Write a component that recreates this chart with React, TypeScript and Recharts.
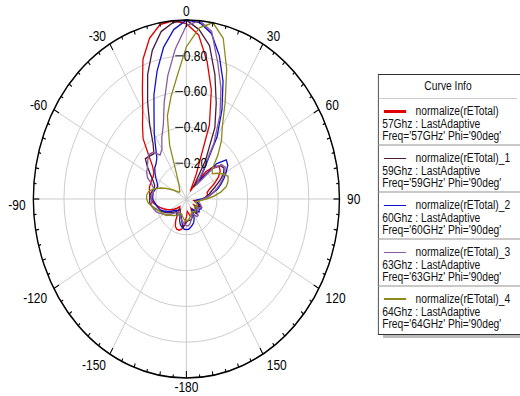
import { RadarChart, Radar, PolarGrid, PolarAngleAxis, PolarRadiusAxis } from 'recharts';

// theta in degrees, clockwise from the top (0) round to -5
const ANGLES = [
  0, 5, 10, 15, 20, 25, 30, 35, 40, 45, 50, 55, 60, 65, 70, 75, 80, 85,
  90, 95, 100, 105, 110, 115, 120, 125, 130, 135, 140, 145, 150, 155, 160, 165, 170, 175,
  -180, -175, -170, -165, -160, -155, -150, -145, -140, -135, -130, -125, -120, -115, -110, -105, -100, -95,
  -90, -85, -80, -75, -70, -65, -60, -55, -50, -45, -40, -35, -30, -25, -20, -15, -10, -5,
];

// normalize(rETotal), same order as ANGLES
const F57 = [
  0.98, 0.92, 0.78, 0.63, 0.44, 0.15, 0.05, 0.12, 0.2, 0.26, 0.28, 0.27, 0.24, 0.2, 0.16, 0.14, 0.14, 0.13,
  0.11, 0.08, 0.05, 0.06, 0.08, 0.09, 0.08, 0.06, 0.08, 0.1, 0.1, 0.08, 0.06, 0.08, 0.1, 0.1, 0.08, 0.07,
  0.1, 0.14, 0.17, 0.18, 0.18, 0.17, 0.14, 0.1, 0.07, 0.06, 0.08, 0.1, 0.12, 0.14, 0.16, 0.18, 0.2, 0.22,
  0.23, 0.24, 0.245, 0.25, 0.25, 0.25, 0.25, 0.26, 0.29, 0.35, 0.44, 0.5, 0.57, 0.68, 0.83, 0.93, 0.99, 1.0,
];
const F59 = [
  1.0, 0.95, 0.87, 0.72, 0.57, 0.44, 0.25, 0.08, 0.15, 0.24, 0.29, 0.3, 0.28, 0.24, 0.2, 0.17, 0.15, 0.13,
  0.11, 0.08, 0.06, 0.07, 0.09, 0.1, 0.09, 0.07, 0.08, 0.1, 0.11, 0.09, 0.07, 0.09, 0.11, 0.12, 0.12, 0.12,
  0.13, 0.15, 0.16, 0.15, 0.13, 0.1, 0.08, 0.07, 0.08, 0.1, 0.12, 0.13, 0.15, 0.17, 0.19, 0.21, 0.23, 0.24,
  0.24, 0.24, 0.23, 0.22, 0.22, 0.24, 0.27, 0.31, 0.35, 0.34, 0.33, 0.38, 0.48, 0.6, 0.74, 0.86, 0.95, 0.99,
];
const F60 = [
  1.0, 0.99, 0.94, 0.83, 0.7, 0.55, 0.4, 0.2, 0.12, 0.28, 0.34, 0.33, 0.3, 0.27, 0.24, 0.21, 0.17, 0.14,
  0.1, 0.07, 0.06, 0.07, 0.09, 0.11, 0.11, 0.1, 0.11, 0.1, 0.08, 0.07, 0.09, 0.12, 0.14, 0.15, 0.16, 0.17,
  0.17, 0.17, 0.15, 0.12, 0.1, 0.09, 0.1, 0.11, 0.1, 0.09, 0.1, 0.12, 0.14, 0.16, 0.18, 0.19, 0.2, 0.21,
  0.22, 0.22, 0.22, 0.21, 0.2, 0.21, 0.23, 0.25, 0.27, 0.28, 0.3, 0.35, 0.42, 0.5, 0.62, 0.74, 0.86, 0.95,
];
const F63 = [
  0.97, 1.0, 0.95, 0.79, 0.66, 0.52, 0.36, 0.18, 0.1, 0.24, 0.3, 0.31, 0.29, 0.26, 0.23, 0.2, 0.17, 0.14,
  0.11, 0.09, 0.08, 0.09, 0.1, 0.11, 0.1, 0.09, 0.09, 0.1, 0.12, 0.12, 0.1, 0.09, 0.1, 0.12, 0.14, 0.15,
  0.15, 0.14, 0.13, 0.12, 0.11, 0.1, 0.09, 0.09, 0.1, 0.11, 0.13, 0.15, 0.17, 0.19, 0.21, 0.22, 0.23, 0.23,
  0.23, 0.23, 0.22, 0.22, 0.24, 0.28, 0.3, 0.31, 0.33, 0.35, 0.34, 0.3, 0.32, 0.38, 0.44, 0.56, 0.7, 0.84,
];
const F64 = [
  0.85, 0.96, 1.0, 0.93, 0.77, 0.6, 0.47, 0.4, 0.32, 0.24, 0.22, 0.25, 0.28, 0.3, 0.29, 0.27, 0.23, 0.18,
  0.13, 0.09, 0.07, 0.06, 0.07, 0.08, 0.08, 0.07, 0.07, 0.08, 0.09, 0.09, 0.08, 0.08, 0.09, 0.1, 0.11, 0.12,
  0.12, 0.12, 0.11, 0.1, 0.09, 0.09, 0.1, 0.11, 0.12, 0.13, 0.14, 0.16, 0.17, 0.18, 0.19, 0.21, 0.23, 0.25,
  0.26, 0.26, 0.25, 0.22, 0.18, 0.14, 0.1, 0.07, 0.06, 0.06, 0.07, 0.08, 0.1, 0.15, 0.32, 0.48, 0.58, 0.69,
];

const CURVES = [
  { key: 'f57', name: 'normalize(rETotal)', ghz: '57', color: '#e00000', legendWidth: 3, values: F57 },
  { key: 'f59', name: 'normalize(rETotal)_1', ghz: '59', color: '#4a1c3c', legendWidth: 1.5, values: F59 },
  { key: 'f60', name: 'normalize(rETotal)_2', ghz: '60', color: '#1010c8', legendWidth: 1.5, values: F60 },
  { key: 'f63', name: 'normalize(rETotal)_3', ghz: '63', color: '#8a5a9e', legendWidth: 1.5, values: F63 },
  { key: 'f64', name: 'normalize(rETotal)_4', ghz: '64', color: '#8c8a1a', legendWidth: 2, values: F64 },
];

const R_TICKS = [0, 0.2, 0.4, 0.6, 0.8, 1];

// the source image is squeezed sideways, so draw wide and squeeze it
const SQUEEZE = 0.855;
const W = 608;
const H = 396;
const CX = 218;
const CY = 199;
const R = 179;
const FONT = '"Liberation Sans", Arial, sans-serif';

const data = ANGLES.map((a, i) => {
  const row: any = { angle: String(a) };
  CURVES.forEach((c) => {
    row[c.key] = c.values[i];
  });
  return row;
});

const spokes = ANGLES.filter((a) => a % 30 === 0).map((a) => 90 - a);

function AngleTick(props: any) {
  const { payload } = props;
  const deg = Number(payload.value);
  const rad = (payload.coordinate * Math.PI) / 180;
  const ux = Math.cos(rad);
  const uy = -Math.sin(rad);
  const len = deg % 30 === 0 ? 7 : deg % 10 === 0 ? 4 : 3;
  const major = deg % 30 === 0;
  const anchor = ux > 0.1 ? 'start' : ux < -0.1 ? 'end' : 'middle';
  const lx = CX + ux * (R + 9);
  // lower labels sit a little further out in the original
  const ly = CY + uy * (R + 9) + (uy > 0 ? 6 * Math.sqrt(1 - uy * uy) : 0);
  return (
    <g>
      <line
        x1={CX + ux * R}
        y1={CY + uy * R}
        x2={CX + ux * (R - len)}
        y2={CY + uy * (R - len)}
        stroke="#000"
        strokeWidth={1.2}
      />
      {major && (
        <text x={lx} y={ly} textAnchor={anchor} dominantBaseline="central" fontSize={14} fontFamily={FONT} fill="#000">
          {deg}
        </text>
      )}
    </g>
  );
}

function RadiusTick(props: any) {
  const { x, y, payload } = props;
  const v = Number(payload.value);
  if (v <= 0 || v >= 1) return null;
  return (
    <g>
      <line x1={x - 13} x2={x - 4} y1={y} y2={y} stroke="#000" strokeWidth={1} />
      <text x={x - 3} y={y} dominantBaseline="central" fontSize={14} fontFamily={FONT} fill="#000">
        {v.toFixed(2)}
      </text>
    </g>
  );
}

function CurveLegend() {
  return (
    <div
      style={{
        position: 'absolute',
        left: 442,
        top: 74,
        width: 190,
        border: '1px solid #333',
        background: '#fff',
        fontFamily: FONT,
        fontSize: 12,
        color: '#111',
        boxShadow: '2px 7px 0 -4px #bbb',
      }}
    >
      <div style={{ height: 23, lineHeight: '23px', width: 162, textAlign: 'center', borderBottom: '1px solid #ccc' }}>
        Curve Info
      </div>
      {CURVES.map((c, i) => (
        <div
          key={c.key}
          style={{
            height: 47,
            boxSizing: 'border-box',
            paddingTop: 6,
            paddingLeft: 4,
            lineHeight: '12.5px',
            whiteSpace: 'nowrap',
            borderBottom: i < CURVES.length - 1 ? '2px solid #c8c8c8' : 'none',
          }}
        >
          <div style={{ display: 'flex', alignItems: 'center' }}>
            <span
              style={{
                display: 'inline-block',
                width: 26,
                height: c.legendWidth,
                background: c.color,
                marginLeft: 2,
                marginRight: 11,
              }}
            />
            <span>{c.name}</span>
          </div>
          <div>{c.ghz}Ghz : LastAdaptive</div>
          <div>
            Freq='{c.ghz}GHz' Phi='90deg'
          </div>
        </div>
      ))}
    </div>
  );
}

export default function App() {
  return (
    <div style={{ position: 'absolute', left: 0, top: 0, width: 520, height: 396, overflow: 'hidden', background: '#fff' }}>
      <div style={{ position: 'relative', width: W, height: H, transform: `scaleX(${SQUEEZE})`, transformOrigin: '0 0' }}>
        <RadarChart
          width={W}
          height={H}
          data={data}
          cx={CX}
          cy={CY}
          outerRadius={R}
          startAngle={90}
          endAngle={-270}
          margin={{ top: 0, right: 0, bottom: 0, left: 0 }}
        >
          <PolarGrid gridType="circle" stroke="#c8c8c8" polarAngles={spokes} />
          <PolarAngleAxis
            dataKey="angle"
            axisLineType="circle"
            axisLine={{ stroke: '#000', strokeWidth: 1.6 }}
            tickLine={false}
            tick={AngleTick}
          />
          <PolarRadiusAxis
            angle={90}
            type="number"
            domain={[0, 1]}
            ticks={R_TICKS as any}
            tickCount={6}
            axisLine={false}
            tickLine={false}
            tick={RadiusTick}
          />
          {CURVES.map((c) => (
            <Radar
              key={c.key}
              dataKey={c.key}
              name={c.name}
              stroke={c.color}
              strokeWidth={1.5}
              fill="none"
              fillOpacity={0}
              dot={false}
              isAnimationActive={false}
            />
          ))}
        </RadarChart>
        <CurveLegend />
      </div>
    </div>
  );
}
